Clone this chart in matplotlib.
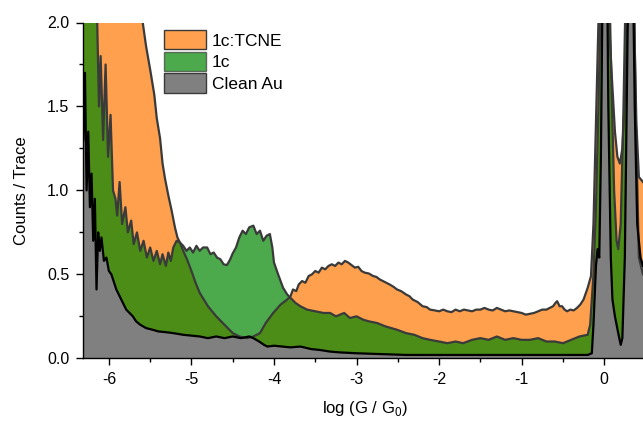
import matplotlib
matplotlib.use('Agg')
import matplotlib.pyplot as plt
from matplotlib.patches import Patch
from matplotlib.ticker import MultipleLocator

plt.rcParams['font.family'] = ['Liberation Sans', 'DejaVu Sans']
plt.rcParams['mathtext.fontset'] = 'custom'
plt.rcParams['mathtext.rm'] = 'Liberation Sans'
plt.rcParams['axes.unicode_minus'] = False

series_labels = ['1c:TCNE', '1c', 'Clean Au']
x_label = r'log (G / G$_{\mathregular{0}}$)'
y_label = 'Counts / Trace'
x_ticks = [-6, -5, -4, -3, -2, -1, 0]
y_ticks = [0.0, 0.5, 1.0, 1.5, 2.0]

# 1c:TCNE histogram (values > 2 are clipped)
tcne_x = [-6.31, -5.62, -5.59, -5.55, -5.50, -5.45, -5.42, -5.38, -5.35, -5.32,
          -5.28, -5.24, -5.20, -5.17, -5.14, -5.10, -5.05, -5.00, -4.95, -4.90,
          -4.80, -4.70, -4.60, -4.50, -4.42, -4.33, -4.25, -4.17, -4.10, -4.01,
          -3.92, -3.84, -3.80, -3.77, -3.73, -3.70, -3.66, -3.62, -3.58, -3.54,
          -3.50, -3.46, -3.42, -3.38, -3.34, -3.30, -3.26, -3.22, -3.18, -3.14,
          -3.10, -3.06, -3.02, -2.98, -2.94, -2.90, -2.85, -2.80, -2.76, -2.72,
          -2.66, -2.60, -2.55, -2.51, -2.46, -2.40, -2.36, -2.32, -2.26, -2.20,
          -2.15, -2.11, -2.05, -2.00, -1.95, -1.90, -1.85, -1.80, -1.75, -1.70,
          -1.65, -1.60, -1.55, -1.50, -1.45, -1.40, -1.35, -1.30, -1.25, -1.20,
          -1.15, -1.10, -1.05, -1.00, -0.95, -0.90, -0.85, -0.80, -0.75, -0.70,
          -0.66, -0.62, -0.59, -0.57, -0.54, -0.51, -0.48, -0.45, -0.41, -0.37,
          -0.33, -0.29, -0.25, -0.20, -0.16, -0.13, -0.10, -0.07, -0.04, 0.00,
          0.05, 0.09, 0.13, 0.16, 0.19, 0.22, 0.25, 0.28, 0.31, 0.36,
          0.39, 0.42, 0.47]
tcne_y = [2.60, 2.40, 2.00, 1.86, 1.72, 1.57, 1.43, 1.31, 1.16, 1.07,
          0.97, 0.88, 0.78, 0.72, 0.69, 0.64, 0.585, 0.52, 0.45, 0.39,
          0.31, 0.25, 0.20, 0.15, 0.13, 0.12, 0.13, 0.15, 0.21, 0.27,
          0.32, 0.35, 0.37, 0.41, 0.40, 0.44, 0.46, 0.45, 0.49, 0.50,
          0.52, 0.51, 0.54, 0.53, 0.55, 0.56, 0.55, 0.57, 0.56, 0.58,
          0.57, 0.555, 0.54, 0.545, 0.52, 0.51, 0.505, 0.49, 0.485, 0.47,
          0.455, 0.44, 0.425, 0.41, 0.40, 0.38, 0.37, 0.35, 0.335, 0.31,
          0.305, 0.29, 0.285, 0.28, 0.29, 0.28, 0.275, 0.29, 0.28, 0.29,
          0.285, 0.28, 0.29, 0.29, 0.30, 0.29, 0.285, 0.30, 0.29, 0.28,
          0.285, 0.28, 0.275, 0.27, 0.26, 0.265, 0.27, 0.28, 0.29, 0.29,
          0.30, 0.31, 0.33, 0.34, 0.31, 0.31, 0.29, 0.28, 0.29, 0.285,
          0.30, 0.32, 0.35, 0.42, 0.49, 0.80, 1.40, 2.00, 2.60, 2.60,
          2.10, 1.70, 1.35, 1.20, 1.16, 1.25, 1.55, 2.00, 2.60, 2.10,
          1.40, 1.08, 1.05]

# 1c histogram
c1_x = [-6.31, -6.20, -6.15, -6.12, -6.10, -6.07, -6.04, -6.01, -5.98, -5.95,
        -5.92, -5.90, -5.87, -5.84, -5.80, -5.77, -5.73, -5.70, -5.66, -5.62,
        -5.58, -5.54, -5.50, -5.46, -5.42, -5.38, -5.35, -5.31, -5.28, -5.25,
        -5.22, -5.18, -5.14, -5.10, -5.06, -5.02, -4.98, -4.94, -4.90, -4.86,
        -4.81, -4.77, -4.73, -4.69, -4.65, -4.61, -4.57, -4.53, -4.50, -4.46,
        -4.42, -4.38, -4.34, -4.30, -4.25, -4.21, -4.17, -4.13, -4.09, -4.05,
        -4.02, -4.00, -3.95, -3.89, -3.84, -3.80, -3.74, -3.68, -3.60, -3.50,
        -3.40, -3.32, -3.25, -3.15, -3.08, -3.00, -2.92, -2.85, -2.75, -2.65,
        -2.51, -2.40, -2.30, -2.20, -2.11, -2.00, -1.90, -1.80, -1.71, -1.60,
        -1.50, -1.40, -1.30, -1.20, -1.10, -1.00, -0.90, -0.80, -0.70, -0.60,
        -0.50, -0.40, -0.30, -0.20, -0.17, -0.13, -0.10, -0.07, -0.04, 0.00,
        0.05, 0.08, 0.12, 0.15, 0.17, 0.20, 0.23, 0.26, 0.30, 0.35,
        0.38, 0.42, 0.47]
c1_y = [2.60, 2.60, 2.20, 1.50, 1.80, 1.30, 1.75, 1.20, 1.45, 1.00,
        0.95, 0.85, 1.05, 0.80, 0.90, 0.75, 0.82, 0.68, 0.75, 0.64,
        0.70, 0.60, 0.66, 0.58, 0.64, 0.56, 0.62, 0.55, 0.63, 0.58,
        0.66, 0.70, 0.69, 0.67, 0.64, 0.66, 0.63, 0.67, 0.64, 0.66,
        0.66, 0.62, 0.63, 0.60, 0.59, 0.56, 0.555, 0.59, 0.625, 0.66,
        0.72, 0.76, 0.74, 0.78, 0.79, 0.74, 0.76, 0.70, 0.73, 0.74,
        0.66, 0.57, 0.50, 0.42, 0.38, 0.36, 0.33, 0.31, 0.29, 0.28,
        0.27, 0.27, 0.25, 0.27, 0.24, 0.25, 0.23, 0.22, 0.21, 0.19,
        0.17, 0.15, 0.14, 0.12, 0.11, 0.10, 0.09, 0.10, 0.09, 0.11,
        0.12, 0.11, 0.13, 0.11, 0.12, 0.11, 0.11, 0.12, 0.10, 0.10,
        0.09, 0.11, 0.13, 0.14, 0.20, 0.50, 0.90, 1.50, 2.20, 2.60,
        2.60, 1.80, 1.00, 0.70, 0.65, 0.80, 1.40, 2.20, 2.60, 2.60,
        1.50, 0.60, 0.50]

# Clean Au histogram
au_x = [-6.31, -6.29, -6.27, -6.25, -6.23, -6.21, -6.19, -6.17, -6.15, -6.13,
        -6.11, -6.09, -6.06, -6.03, -6.00, -5.97, -5.95, -5.91, -5.87, -5.83,
        -5.79, -5.75, -5.71, -5.67, -5.62, -5.55, -5.47, -5.40, -5.30, -5.22,
        -5.10, -5.00, -4.90, -4.80, -4.70, -4.60, -4.50, -4.40, -4.30, -4.25,
        -4.18, -4.12, -4.08, -4.00, -3.90, -3.80, -3.68, -3.55, -3.45, -3.32,
        -3.20, -3.00, -2.70, -2.40, -2.00, -1.50, -1.00, -0.50, -0.20, -0.15,
        -0.13, -0.10, -0.08, -0.06, -0.04, -0.02, 0.00, 0.03, 0.05, 0.08,
        0.10, 0.13, 0.17, 0.20, 0.22, 0.25, 0.28, 0.30, 0.34, 0.37,
        0.40, 0.44, 0.47]
au_y = [1.30, 1.70, 1.00, 1.35, 0.90, 1.10, 0.70, 0.95, 0.41, 0.75,
        0.64, 0.72, 0.58, 0.60, 0.52, 0.50, 0.47, 0.41, 0.37, 0.33,
        0.29, 0.27, 0.25, 0.22, 0.20, 0.18, 0.17, 0.16, 0.155, 0.15,
        0.14, 0.135, 0.13, 0.12, 0.13, 0.12, 0.13, 0.12, 0.13, 0.12,
        0.10, 0.08, 0.07, 0.075, 0.07, 0.065, 0.07, 0.055, 0.05, 0.04,
        0.035, 0.03, 0.025, 0.02, 0.02, 0.02, 0.02, 0.02, 0.02, 0.03,
        0.20, 0.55, 0.65, 0.60, 1.20, 2.20, 2.60, 2.60, 1.50, 0.60,
        0.35, 0.25, 0.15, 0.08, 0.12, 0.60, 1.80, 2.60, 2.60, 1.50,
        0.80, 0.60, 0.55]

orange = '#FFA04F'
green = (0.0, 134 / 255, 0.0)
grey = '#808080'
edge = '#3a3a3a'

fig = plt.figure(figsize=(6.43, 4.21), dpi=100)
ax = fig.add_axes([83.3 / 643, 1 - 358.3 / 421, (643 - 83.3) / 643, (358.3 - 22.5) / 421])

ax.fill_between(tcne_x, 0, tcne_y, color=orange, lw=0)
ax.plot(tcne_x, tcne_y, color=edge, lw=1.6)
ax.fill_between(c1_x, 0, c1_y, color=green, alpha=0.7, lw=0)
ax.plot(c1_x, c1_y, color=edge, lw=1.6)
ax.fill_between(au_x, 0, au_y, color=grey, lw=0)
ax.plot(au_x, au_y, color='black', lw=1.6)

ax.set_xlim(-6.31, 0.47)
ax.set_ylim(0, 2.0)
ax.set_xticks(x_ticks)
ax.set_yticks(y_ticks)
ax.set_yticklabels([f'{v:.1f}' for v in y_ticks])
ax.xaxis.set_minor_locator(MultipleLocator(0.5))
ax.yaxis.set_minor_locator(MultipleLocator(0.25))
ax.tick_params(which='major', direction='out', length=5, width=1, labelsize=11.5, pad=5)
ax.tick_params(which='minor', direction='out', length=3, width=1)
for s in ['top', 'right']:
    ax.spines[s].set_visible(False)
for s in ['left', 'bottom']:
    ax.spines[s].set_linewidth(1)

ax.set_xlabel(x_label, fontsize=12)
ax.set_ylabel(y_label, fontsize=12)
ax.xaxis.set_label_coords(0.503, -0.12)
ax.yaxis.set_label_coords(-0.097, 0.5)
ax.xaxis.label.set_va('top')

handles = [Patch(facecolor=orange, edgecolor=edge, lw=1),
           Patch(facecolor=green, alpha=0.7, edgecolor=edge, lw=1),
           Patch(facecolor=grey, edgecolor=edge, lw=1)]
fig.legend(handles, series_labels, loc='upper left',
           bbox_to_anchor=(164 / 643, 1 - 30 / 421), frameon=False,
           fontsize=12.5, borderpad=0, borderaxespad=0,
           handlelength=2.4, handleheight=1.35, labelspacing=0.12, handletextpad=0.35)

fig.savefig('out.png', dpi=100)
